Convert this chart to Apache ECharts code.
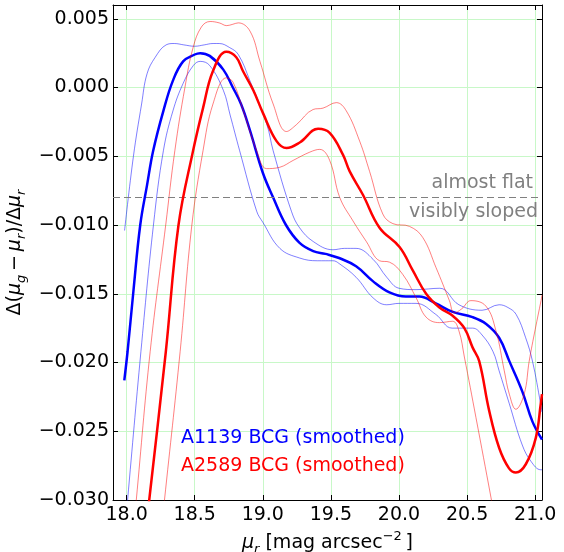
<!DOCTYPE html>
<html><head><meta charset="utf-8">
<script src="https://cdn.jsdelivr.net/npm/echarts@6/dist/echarts.min.js"></script>
<style>html,body{margin:0;padding:0;background:#fff}#c{width:564px;height:552px}</style>
</head><body><div id="c"></div>
<script>
// ---- tick values ----
const xTicks = [18.0, 18.5, 19.0, 19.5, 20.0, 20.5, 21.0];
const yTicks = [-0.030, -0.025, -0.020, -0.015, -0.010, -0.005, 0.000, 0.005];
const flatThreshold = -0.008;
const annotationTexts = ['almost flat', 'visibly sloped'];
const seriesLabels = ['A1139 BCG (smoothed)', 'A2589 BCG (smoothed)'];

// ---- A1139 BCG (blue): smoothed profile and its envelope ----
const a1139Mid = [[17.983,-0.0213],[18.007,-0.0192],[18.05,-0.0148],[18.10,-0.0100],[18.15,-0.0071],[18.195,-0.0046],[18.27,-0.0017],[18.34,0.0005],[18.415,0.0019],[18.50,0.0024],[18.54,0.0025],[18.61,0.0023],[18.71,0.0013],[18.78,0.0000],[18.84,-0.0012],[18.905,-0.0031],[19.0,-0.0062],[19.076,-0.0080],[19.17,-0.0100],[19.27,-0.0113],[19.37,-0.0119],[19.46,-0.0121],[19.56,-0.0124],[19.685,-0.0130],[19.81,-0.0141],[19.93,-0.0149],[20.05,-0.0152],[20.15,-0.0152],[20.27,-0.0157],[20.39,-0.0163],[20.54,-0.0167],[20.64,-0.0172],[20.735,-0.0182],[20.81,-0.0199],[20.905,-0.0221],[20.98,-0.0243],[21.05,-0.0256]];
const a1139Upper = [[17.985,-0.0104],[18.05,-0.0050],[18.11,-0.0012],[18.15,0.0010],[18.21,0.0022],[18.29,0.0031],[18.35,0.0032],[18.42,0.0031],[18.50,0.0030],[18.57,0.0031],[18.635,0.0032],[18.68,0.0032],[18.757,0.0029],[18.82,0.0024],[18.905,0.0005],[19.03,-0.0027],[19.076,-0.0046],[19.21,-0.0090],[19.27,-0.0102],[19.37,-0.0112],[19.515,-0.0118],[19.60,-0.0117],[19.685,-0.0117],[19.81,-0.0125],[19.91,-0.0138],[20.0,-0.0146],[20.125,-0.0147],[20.30,-0.0146],[20.44,-0.0158],[20.61,-0.0162],[20.735,-0.0158],[20.80,-0.0160],[20.86,-0.0165],[20.93,-0.0182],[20.98,-0.0199],[21.04,-0.0230],[21.05,-0.0236]];
const a1139Lower = [[17.985,-0.0325],[18.007,-0.0300],[18.105,-0.0192],[18.197,-0.0100],[18.27,-0.0046],[18.34,-0.0017],[18.415,0.0003],[18.49,0.0016],[18.54,0.0019],[18.61,0.0016],[18.71,-0.0002],[18.76,-0.0020],[18.83,-0.0046],[18.955,-0.0090],[19.0,-0.0098],[19.125,-0.0117],[19.27,-0.0124],[19.40,-0.0126],[19.515,-0.0126],[19.56,-0.0128],[19.685,-0.0138],[19.81,-0.0153],[19.91,-0.0158],[20.0,-0.0157],[20.125,-0.0157],[20.27,-0.0165],[20.39,-0.0175],[20.54,-0.0175],[20.61,-0.0180],[20.69,-0.0192],[20.735,-0.0206],[20.81,-0.0230],[20.905,-0.0260],[20.97,-0.0272],[21.04,-0.0278],[21.05,-0.0278]];

// ---- A2589 BCG (red): smoothed profile and its envelope ----
const a2589Mid = [[18.14,-0.0323],[18.166,-0.0300],[18.288,-0.0192],[18.381,-0.0100],[18.488,-0.0046],[18.561,-0.0015],[18.634,0.0012],[18.732,0.0026],[18.805,0.0022],[18.854,0.0012],[18.930,-0.0002],[19.003,-0.0019],[19.101,-0.0039],[19.174,-0.0044],[19.271,-0.0040],[19.406,-0.0030],[19.491,-0.0033],[19.589,-0.0049],[19.638,-0.0061],[19.735,-0.0078],[19.857,-0.0102],[20.004,-0.0116],[20.101,-0.0133],[20.199,-0.0150],[20.297,-0.0160],[20.394,-0.0166],[20.480,-0.0175],[20.540,-0.0189],[20.589,-0.0199],[20.662,-0.0235],[20.735,-0.0262],[20.808,-0.0277],[20.858,-0.0280],[20.931,-0.0274],[21.004,-0.0255],[21.041,-0.0230],[21.05,-0.0223]];
const a2589Upper = [[18.05,-0.0322],[18.071,-0.0300],[18.173,-0.0192],[18.287,-0.0100],[18.354,-0.0046],[18.428,0.0000],[18.488,0.0029],[18.549,0.0044],[18.613,0.0048],[18.68,0.0047],[18.735,0.0045],[18.78,0.0046],[18.82,0.0047],[18.906,0.0041],[18.979,0.0019],[19.076,-0.0012],[19.174,-0.0032],[19.247,-0.0027],[19.369,-0.0016],[19.442,-0.0015],[19.540,-0.0011],[19.613,-0.0017],[19.711,-0.0039],[19.784,-0.0061],[19.881,-0.0092],[19.955,-0.0099],[20.077,-0.0101],[20.174,-0.0109],[20.272,-0.0131],[20.370,-0.0155],[20.406,-0.0164],[20.46,-0.0161],[20.528,-0.0155],[20.638,-0.0159],[20.712,-0.0177],[20.773,-0.0206],[20.810,-0.0223],[20.858,-0.0234],[20.919,-0.0223],[20.956,-0.0199],[21.00,-0.0176],[21.043,-0.0155],[21.05,-0.0151]];
const a2589Lower = [[18.25,-0.0326],[18.278,-0.0300],[18.393,-0.0192],[18.479,-0.0100],[18.561,-0.0046],[18.634,-0.0012],[18.732,0.0007],[18.781,0.0004],[18.857,-0.0017],[18.955,-0.0046],[19.028,-0.0059],[19.125,-0.0058],[19.223,-0.0053],[19.345,-0.0047],[19.418,-0.0045],[19.491,-0.0053],[19.565,-0.0080],[19.662,-0.0097],[19.760,-0.0112],[19.857,-0.0126],[19.930,-0.0127],[20.028,-0.0136],[20.126,-0.0153],[20.199,-0.0167],[20.297,-0.0171],[20.394,-0.0170],[20.44,-0.0177],[20.48,-0.0196],[20.565,-0.0240],[20.675,-0.0298],[20.70,-0.0312]];

const FONT = 'DejaVu Sans';
const FS = 19;
const chart = echarts.init(document.getElementById('c'), null, {renderer: 'canvas'});
const fmtY = v => (Math.abs(v) < 1e-9 ? '0.000' : v.toFixed(3)).replace('-', '\u2212');
const fmtX = v => v.toFixed(1);

const richMath = {
  i: {fontStyle: 'italic', fontSize: FS, fontFamily: FONT, lineHeight: 26, verticalAlign: 'middle', color: '#000'},
  d: {fontSize: FS, fontFamily: FONT, lineHeight: 26, verticalAlign: 'middle', color: '#000'},
  sub: {fontStyle: 'italic', fontSize: 13, fontFamily: FONT, lineHeight: 14, verticalAlign: 'bottom', color: '#000'},
  sup: {fontSize: 13, fontFamily: FONT, lineHeight: 14, verticalAlign: 'top', color: '#000'}
};

function line(data, color, width, z) {
  return {type: 'line', data: data, xAxisIndex: 0, yAxisIndex: 0, smooth: 0.4, showSymbol: false, symbol: 'none',
    lineStyle: {color: color, width: width}, z: z, silent: true, clip: true};
}

const series = [
  line(a1139Upper, 'rgba(0,0,255,0.5)', 1, 2),
  line(a1139Lower, 'rgba(0,0,255,0.5)', 1, 2),
  line(a1139Mid, '#0000ff', 2.5, 3),
  line(a2589Upper, 'rgba(255,0,0,0.5)', 1, 4),
  line(a2589Lower, 'rgba(255,0,0,0.5)', 1, 4),
  line(a2589Mid, '#ff0000', 2.5, 5)
];
series[0].markLine = {silent: true, symbol: 'none', precision: 5, label: {show: false},
  lineStyle: {color: '#808080', width: 1, type: [7, 4]}, data: [{yAxis: flatThreshold}]};

const axisLineStyle = {show: true, onZero: false, lineStyle: {color: '#000', width: 1}};

chart.setOption({
  animation: false,
  backgroundColor: '#fff',
  grid: {left: 113, right: 22, top: 5, bottom: 52, containLabel: false, outerBoundsMode: 'none'},
  xAxis: [
    {type: 'value', min: 17.9, max: 21.05, position: 'bottom',
     axisLine: axisLineStyle,
     axisTick: {show: true, inside: true, length: 5, customValues: xTicks, lineStyle: {color: '#000'}},
     axisLabel: {customValues: xTicks, formatter: fmtX, fontSize: FS, fontFamily: FONT, color: '#000', margin: 6},
     splitLine: {show: true, lineStyle: {color: '#c8f8c8', width: 1}},
     name: '{i|μ}{sub|r} [mag arcsec{sup|−2}\u2009]', nameLocation: 'middle', nameGap: 26,
     nameTextStyle: {fontSize: FS, fontFamily: FONT, color: '#000', lineHeight: 26, rich: richMath}},
    {type: 'value', min: 17.9, max: 21.05, position: 'top',
     axisLine: axisLineStyle,
     axisTick: {show: true, inside: true, length: 5, customValues: xTicks, lineStyle: {color: '#000'}},
     axisLabel: {show: false}, splitLine: {show: false}}
  ],
  yAxis: [
    {type: 'value', min: -0.030, max: 0.006, position: 'left',
     axisLine: axisLineStyle,
     axisTick: {show: true, inside: true, length: 5, customValues: yTicks, lineStyle: {color: '#000'}},
     axisLabel: {customValues: yTicks, formatter: fmtY, fontSize: FS, fontFamily: FONT, color: '#000', margin: 4},
     splitLine: {show: true, lineStyle: {color: '#c8f8c8', width: 1}},
     name: '{d|Δ}({i|μ}{sub|g}\u2009−\u2009{i|μ}{sub|r})/{d|Δ}{i|μ}{sub|r}', nameLocation: 'middle', nameGap: 76,
     nameTextStyle: {fontSize: FS, fontFamily: FONT, color: '#000', lineHeight: 26, rich: richMath}},
    {type: 'value', min: -0.030, max: 0.006, position: 'right',
     axisLine: axisLineStyle,
     axisTick: {show: true, inside: true, length: 5, customValues: yTicks, lineStyle: {color: '#000'}},
     axisLabel: {show: false}, splitLine: {show: false}}
  ],
  graphic: [
    {type: 'text', x: 533, y: 183, z: 10, silent: true,
     style: {text: annotationTexts[0], align: 'right', verticalAlign: 'middle', fontSize: FS, fontFamily: FONT, fill: '#808080'}},
    {type: 'text', x: 538, y: 212, z: 10, silent: true,
     style: {text: annotationTexts[1], align: 'right', verticalAlign: 'middle', fontSize: FS, fontFamily: FONT, fill: '#808080'}},
    {type: 'text', x: 181, y: 438, z: 10, silent: true,
     style: {text: seriesLabels[0], align: 'left', verticalAlign: 'middle', fontSize: FS, fontFamily: FONT, fill: '#0000ff'}},
    {type: 'text', x: 181, y: 466, z: 10, silent: true,
     style: {text: seriesLabels[1], align: 'left', verticalAlign: 'middle', fontSize: FS, fontFamily: FONT, fill: '#ff0000'}}
  ],
  series: series
});
</script>
</body></html>
